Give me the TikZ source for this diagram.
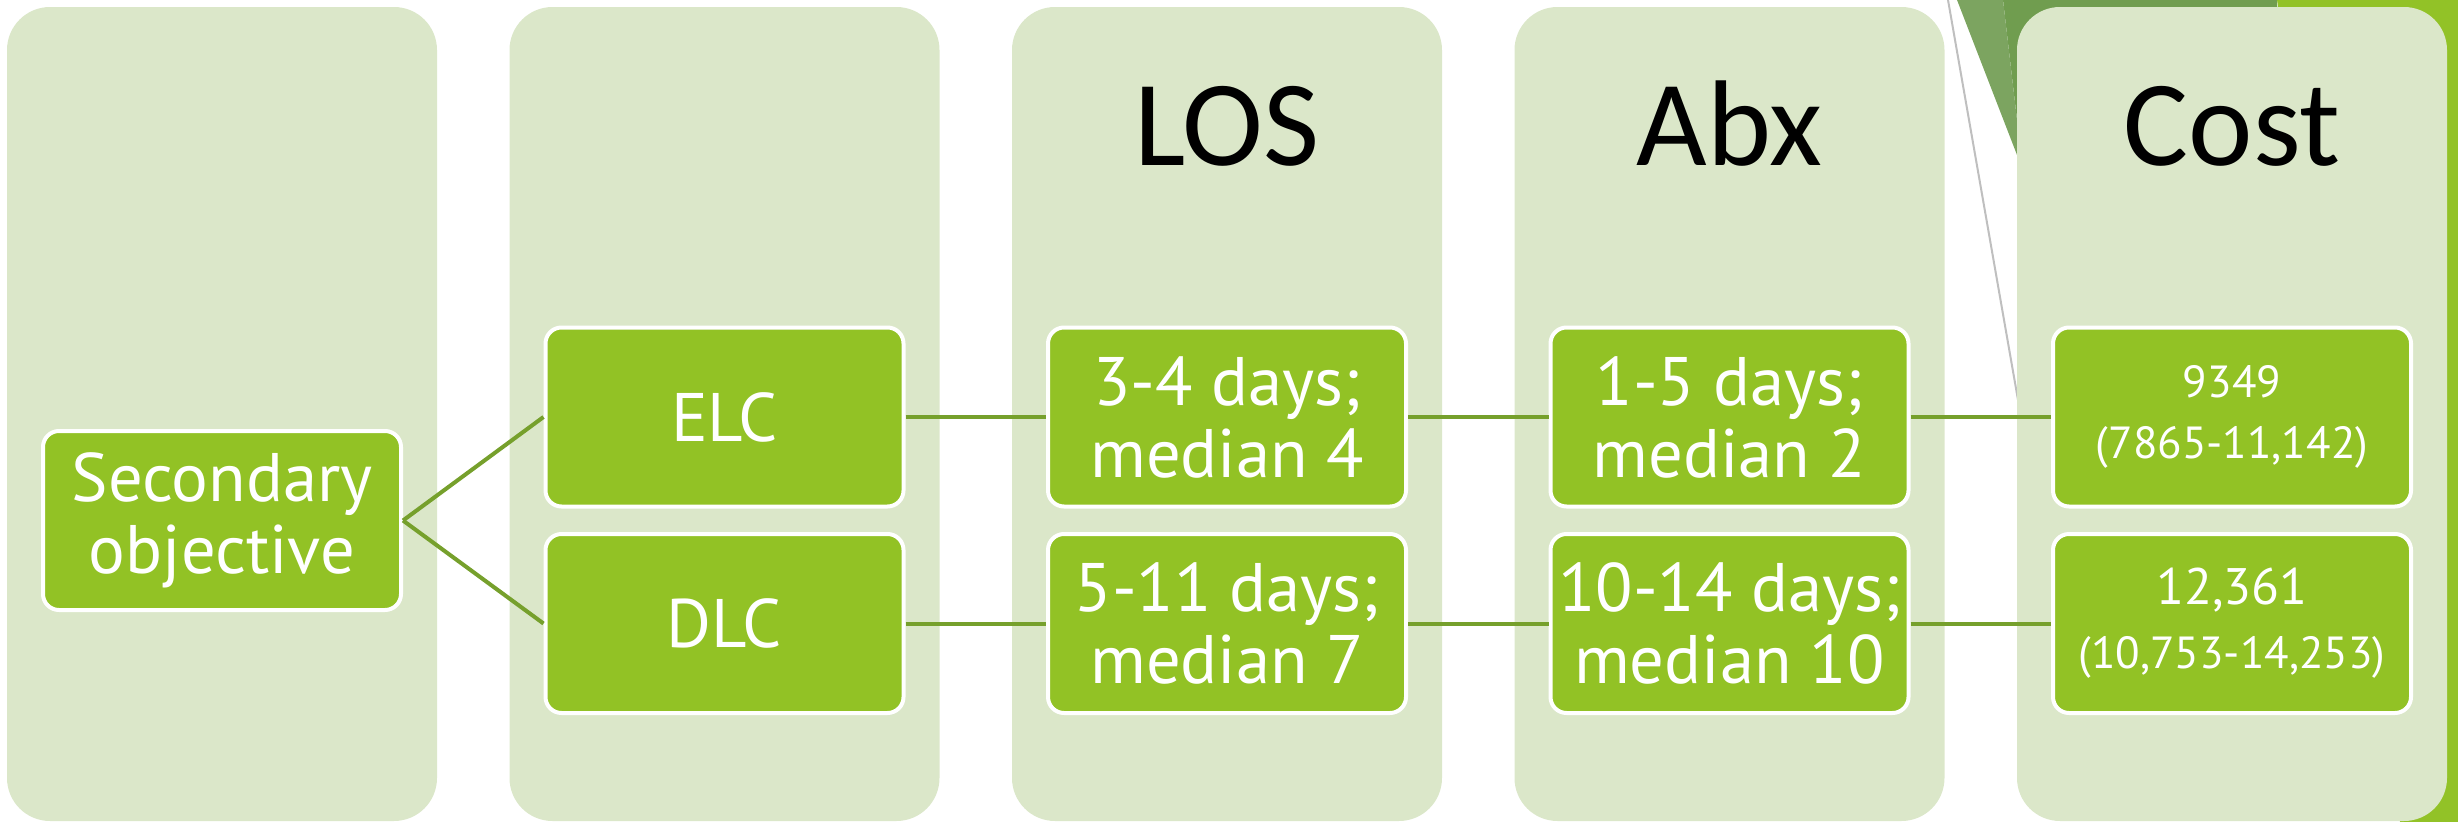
\documentclass[tikz,border=0pt]{standalone}
\usepackage{fontspec}
\setmainfont{PT Sans}
\newfontfamily\headfont{Carlito}
\definecolor{lanegreen}{RGB}{219,231,201}
\definecolor{boxgreen}{RGB}{146,194,37}
\definecolor{linkgreen}{RGB}{118,160,44}
\definecolor{facetdark}{RGB}{112,157,79}
\definecolor{facetlight}{RGB}{124,164,96}
\definecolor{facetbright}{RGB}{146,194,39}
\definecolor{rulegray}{RGB}{191,191,191}
\tikzset{lane/.style={fill=lanegreen, rounded corners=12.9pt, minimum width=129pt, minimum height=244.2pt, inner sep=0pt}}
\tikzset{head/.style={anchor=base, text=black, font=\headfont\fontsize{36.6}{40}\selectfont}}
\tikzset{block/.style={draw=white, line width=1.2pt, fill=boxgreen, rounded corners=4.8pt, minimum width=107.4pt, minimum height=53.7pt, inner sep=0pt, align=center, text=white, font=\fontsize{20.6}{21.6}\selectfont}}
\tikzset{costblock/.style={block, font=\fontsize{13.5}{18.3}\selectfont}}
\tikzset{link/.style={draw=linkgreen, line width=1.2pt}}

\begin{document}
\begin{tikzpicture}[x=0.3pt, y=-0.3pt]
    \useasboundingbox (0,0) rectangle (2458,822);
    % theme corner behind the last lane
    \fill[facetdark] (2003,0) -- (2277,0) -- (2300,600) -- (2017,155) -- (2017,120) -- cycle;
    \fill[facetlight] (1957,0) -- (2003,0) -- (2017,120) -- (2017,155) -- cycle;
    \fill[facetbright] (2277,0) -- (2458,0) -- (2458,822) -- (2400,822) -- cycle;
    \draw[rulegray, line width=0.6pt] (1948,0) -- (2025,440);

    \node[lane] at (222,414) (lane1) {};
    \node[lane, right of=lane1, node distance=150.75pt] (lane2) {};
    \node[lane, right of=lane2, node distance=150.75pt] (lane3) {};
    \node[lane, right of=lane3, node distance=150.75pt] (lane4) {};
    \node[lane, right of=lane4, node distance=150.75pt] (lane5) {};

    \node[head] at (1227,166) (loshead) {LOS};
    \node[head] at (1729.5,166) (abxhead) {Abx};
    \node[head] at (2232,166) (costhead) {Cost};

    \node[block] at (222,520.5) (sec) {Secondary\\objective};
    \node[block] at (724.5,417) (elc) {ELC};
    \node[block] at (724.5,623.5) (dlc) {DLC};
    \node[block, right of=elc, node distance=150.75pt] (loselc) {3-4 days;\\median 4};
    \node[block, right of=dlc, node distance=150.75pt] (losdlc) {5-11 days;\\median 7};
    \node[block, right of=loselc, node distance=150.75pt] (abxelc) {1-5 days;\\median 2};
    \node[block, right of=losdlc, node distance=150.75pt] (abxdlc) {10-14 days;\\median 10};
    \node[costblock, right of=abxelc, node distance=150.75pt] (costelc) {9349\\(7865-11,142)};
    \node[costblock, right of=abxdlc, node distance=150.75pt, font=\fontsize{13.5}{19.2}\selectfont] (costdlc) {{\fontsize{15.4}{19.2}\selectfont 12,361}\\(10,753-14,253)};

    \draw[link] (sec.east) -- (elc.west);
    \draw[link] (sec.east) -- (dlc.west);
    \draw[link] (elc.east) -- (loselc.west);
    \draw[link] (dlc.east) -- (losdlc.west);
    \draw[link] (loselc.east) -- (abxelc.west);
    \draw[link] (losdlc.east) -- (abxdlc.west);
    \draw[link] (abxelc.east) -- (costelc.west);
    \draw[link] (abxdlc.east) -- (costdlc.west);
\end{tikzpicture}
\end{document}
